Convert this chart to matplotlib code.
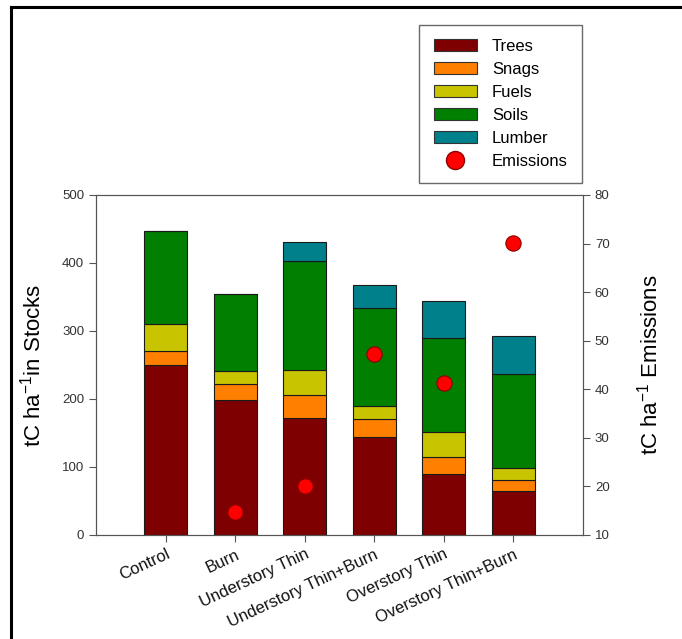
import numpy as np
from matplotlib import pyplot as plt
from matplotlib.lines import Line2D

plt.rcParams['font.family'] = ['Liberation Sans', 'DejaVu Sans']
plt.rcParams['mathtext.fontset'] = 'custom'
plt.rcParams['mathtext.rm'] = 'Liberation Sans'
plt.rcParams['mathtext.default'] = 'regular'

# Carbon stocks per treatment (tC/ha)
treatments = ['Control', 'Burn', 'Understory Thin', 'Understory Thin+Burn',
              'Overstory Thin', 'Overstory Thin+Burn']
trees = [250, 198, 172, 144, 90, 65]
snags = [21, 24, 34, 26, 25, 16]
fuels = [39, 19, 37, 20, 36, 18]
soils = [137, 113, 160, 144, 139, 137]
lumber = [0, 0, 28, 34, 54, 56]
# Emissions (tC/ha), right axis; Control has none
emissions = [np.nan, 14.8, 20.1, 47.2, 41.3, 70.1]

pools = [('Trees', trees, '#7f0000'),
         ('Snags', snags, '#ff8000'),
         ('Fuels', fuels, '#c8c400'),
         ('Soils', soils, '#007f00'),
         ('Lumber', lumber, '#00808a')]

fig = plt.figure(figsize=(6.82, 6.39), dpi=100)
ax = fig.add_axes([0.1408, 0.1628, 0.7141, 0.5321])

x = np.arange(len(treatments))
bottom = np.zeros(len(treatments))
handles = []
for name, vals, col in pools:
    vals = np.array(vals, dtype=float)
    ax.bar(x, vals, 0.62, bottom=bottom, color=col, edgecolor='#1a1a1a',
           linewidth=0.8, zorder=2)
    bottom += vals
    handles.append(plt.Rectangle((0, 0), 1, 1, facecolor=col,
                                 edgecolor='#333333', linewidth=0.8))

ax.set_xlim(-1, 6)
ax.set_ylim(0, 500)
ax.set_yticks(range(0, 501, 100))
ax.set_xticks(x)
ax.set_xticklabels(treatments, rotation=25, ha='right', rotation_mode='anchor',
                   fontsize=12, color='#111111')
ax.set_ylabel('tC ha$^{-1}$in Stocks', fontsize=16, labelpad=12)

ax2 = ax.twinx()
ax2.plot(x, emissions, 'o', color='#ff0000', markeredgecolor='#8b0000',
         markersize=11, markeredgewidth=0.8, zorder=5)
ax2.set_ylim(10, 80)
ax2.set_yticks(range(10, 81, 10))
ax2.set_ylabel('tC ha$^{-1}$ Emissions', fontsize=16, labelpad=19)

for a in (ax, ax2):
    for s in a.spines.values():
        s.set_color('#555555')
    a.tick_params(direction='out', length=5, color='#555555',
                  labelsize=9.5, labelcolor='#333333')
ax.tick_params(axis='x', labelsize=12, labelcolor='#111111')

handles.append(Line2D([], [], marker='o', linestyle='none', color='#ff0000',
                      markeredgecolor='#8b0000', markersize=13))
labels = [p[0] for p in pools] + ['Emissions']
fig.legend(handles, labels, loc='upper right',
           bbox_to_anchor=(582 / 682, 1 - 25 / 639), borderaxespad=0,
           fontsize=12, frameon=True, fancybox=False, edgecolor='#444444',
           handlelength=2.6, handleheight=0.7, labelspacing=0.48,
           borderpad=0.85, handletextpad=0.9)

# border around the picture (left and top visible)
fig.add_artist(Line2D([11 / 682, 11 / 682], [0, 1 - 7 / 639], color='black',
                      linewidth=2.2))
fig.add_artist(Line2D([11 / 682, 1], [1 - 7 / 639, 1 - 7 / 639], color='black',
                      linewidth=2.2))

fig.savefig('out.png', dpi=100)
